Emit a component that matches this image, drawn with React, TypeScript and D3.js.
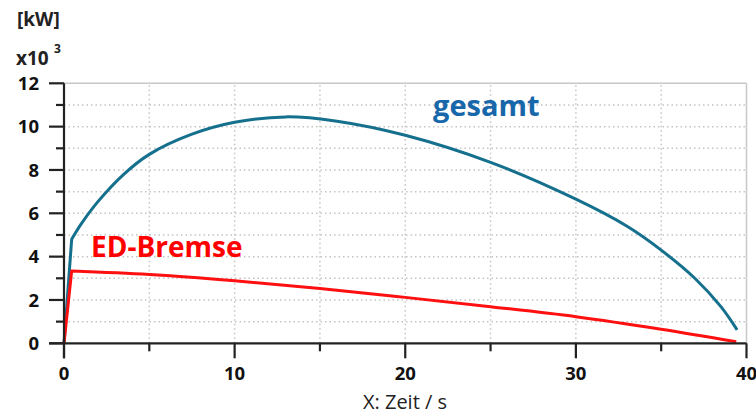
import React from "react";
import * as d3 from "d3";

const timeGesamt = [0, 0.45, 1, 2, 3.5, 5, 7.5, 10, 13, 16, 20, 25, 30, 33, 35, 37, 38.5, 39.45];
const valGesamt = [0, 4.8, 5.5, 6.55, 7.8, 8.72, 9.65, 10.2, 10.45, 10.25, 9.6, 8.35, 6.65, 5.4, 4.3, 2.98, 1.69, 0.62];

const timeBremse = [0, 0.45, 5, 10, 15, 20, 25, 30, 35, 39.4];
const valBremse = [0, 3.34, 3.18, 2.89, 2.53, 2.12, 1.69, 1.23, 0.65, 0.07];

const yMajor = [0, 2, 4, 6, 8, 10, 12];
const yMinor = [1, 3, 5, 7, 9, 11];
const xMajor = [0, 10, 20, 30, 40];
const xMinor = [5, 15, 25, 35];
const yGrid = [1, 2, 3, 4, 5, 6, 7, 8, 9, 10, 11];
const xGrid = [5, 10, 15, 20, 25, 30, 35];

const FONT = "'Open Sans', 'Noto Sans', sans-serif";

export default function App() {
  const x = d3.scaleLinear().domain([0, 40]).range([64, 746.5]);
  const y = d3.scaleLinear().domain([0, 12]).range([343.3, 83.3]);

  const makePath = (ts: number[], vs: number[]) => {
    const pts: [number, number][] = ts.map((t, i) => [x(t), y(vs[i])]);
    const lin = d3.line().curve(d3.curveLinear)(pts.slice(0, 2)) || "";
    const smooth = (d3.line().curve(d3.curveCatmullRom.alpha(0.5))(pts.slice(1)) || "").replace(/^M/, "L");
    return lin + smooth;
  };

  const x0 = x(0), x1 = x(40), y0 = y(0), y1 = y(12);

  return (
    <svg width={756} height={419} style={{ position: "absolute", left: 0, top: 0, background: "#fff" }}>
      {yGrid.map((v) => (
        <line key={"gy" + v} x1={x0} x2={x1} y1={y(v)} y2={y(v)} stroke="#c4c4c4" strokeWidth={1.5} strokeDasharray="1.5,3" />
      ))}
      {xGrid.map((v) => (
        <line key={"gx" + v} x1={x(v)} x2={x(v)} y1={y0} y2={y1} stroke="#c4c4c4" strokeWidth={1.5} strokeDasharray="1.5,3" />
      ))}
      <line x1={x0} x2={x1} y1={y1} y2={y1} stroke="#c8c8c8" strokeWidth={1.5} />
      <line x1={x1} x2={x1} y1={y1} y2={y0} stroke="#c8c8c8" strokeWidth={1.5} />

      <path d={makePath(timeGesamt, valGesamt)} fill="none" stroke="#15708e" strokeWidth={3} strokeLinejoin="round" />
      <path d={makePath(timeBremse, valBremse)} fill="none" stroke="#ff1010" strokeWidth={3} strokeLinejoin="round" />

      <line x1={x0 - 15} x2={x1} y1={y0} y2={y0} stroke="#222" strokeWidth={2.2} />
      <line x1={x0} x2={x0} y1={y1} y2={y0 + 15} stroke="#222" strokeWidth={2.2} />
      {yMajor.map((v) => (
        <line key={"ym" + v} x1={x0 - 15} x2={x0} y1={y(v)} y2={y(v)} stroke="#222" strokeWidth={2.2} />
      ))}
      {yMinor.map((v) => (
        <line key={"yn" + v} x1={x0 - 8} x2={x0} y1={y(v)} y2={y(v)} stroke="#222" strokeWidth={2.2} />
      ))}
      {xMajor.map((v) => (
        <line key={"xm" + v} x1={x(v)} x2={x(v)} y1={y0} y2={y0 + 15} stroke="#222" strokeWidth={2.2} />
      ))}
      {xMinor.map((v) => (
        <line key={"xn" + v} x1={x(v)} x2={x(v)} y1={y0} y2={y0 + 8} stroke="#222" strokeWidth={2.2} />
      ))}

      {yMajor.map((v) => (
        <text key={"yl" + v} x={39} y={y(v)} dy="0.36em" textAnchor="end" fontFamily={FONT} fontWeight={700} fontSize={18.5} fill="#111">
          {v}
        </text>
      ))}
      {xMajor.map((v) => (
        <text key={"xl" + v} x={x(v)} y={380} textAnchor="middle" fontFamily={FONT} fontWeight={700} fontSize={18.5} fill="#111">
          {v}
        </text>
      ))}

      <text x={405} y={409} textAnchor="middle" fontFamily={FONT} fontSize={20} fill="#222">
        X: Zeit / s
      </text>
      <text x={17} y={26} fontFamily={FONT} fontWeight={700} fontSize={19} fill="#222">
        [kW]
      </text>
      <text x={16} y={65} fontFamily={FONT} fontWeight={700} fontSize={19} fill="#222">
        x10
      </text>
      <text x={54} y={53} fontFamily={FONT} fontWeight={700} fontSize={12} fill="#222">
        3
      </text>

      <text x={433} y={116} fontFamily={FONT} fontWeight={700} fontSize={29} fill="#1767aa">
        gesamt
      </text>
      <text x={91} y={257} fontFamily={FONT} fontWeight={700} fontSize={28} fill="#ff0000">
        ED-Bremse
      </text>
    </svg>
  );
}
